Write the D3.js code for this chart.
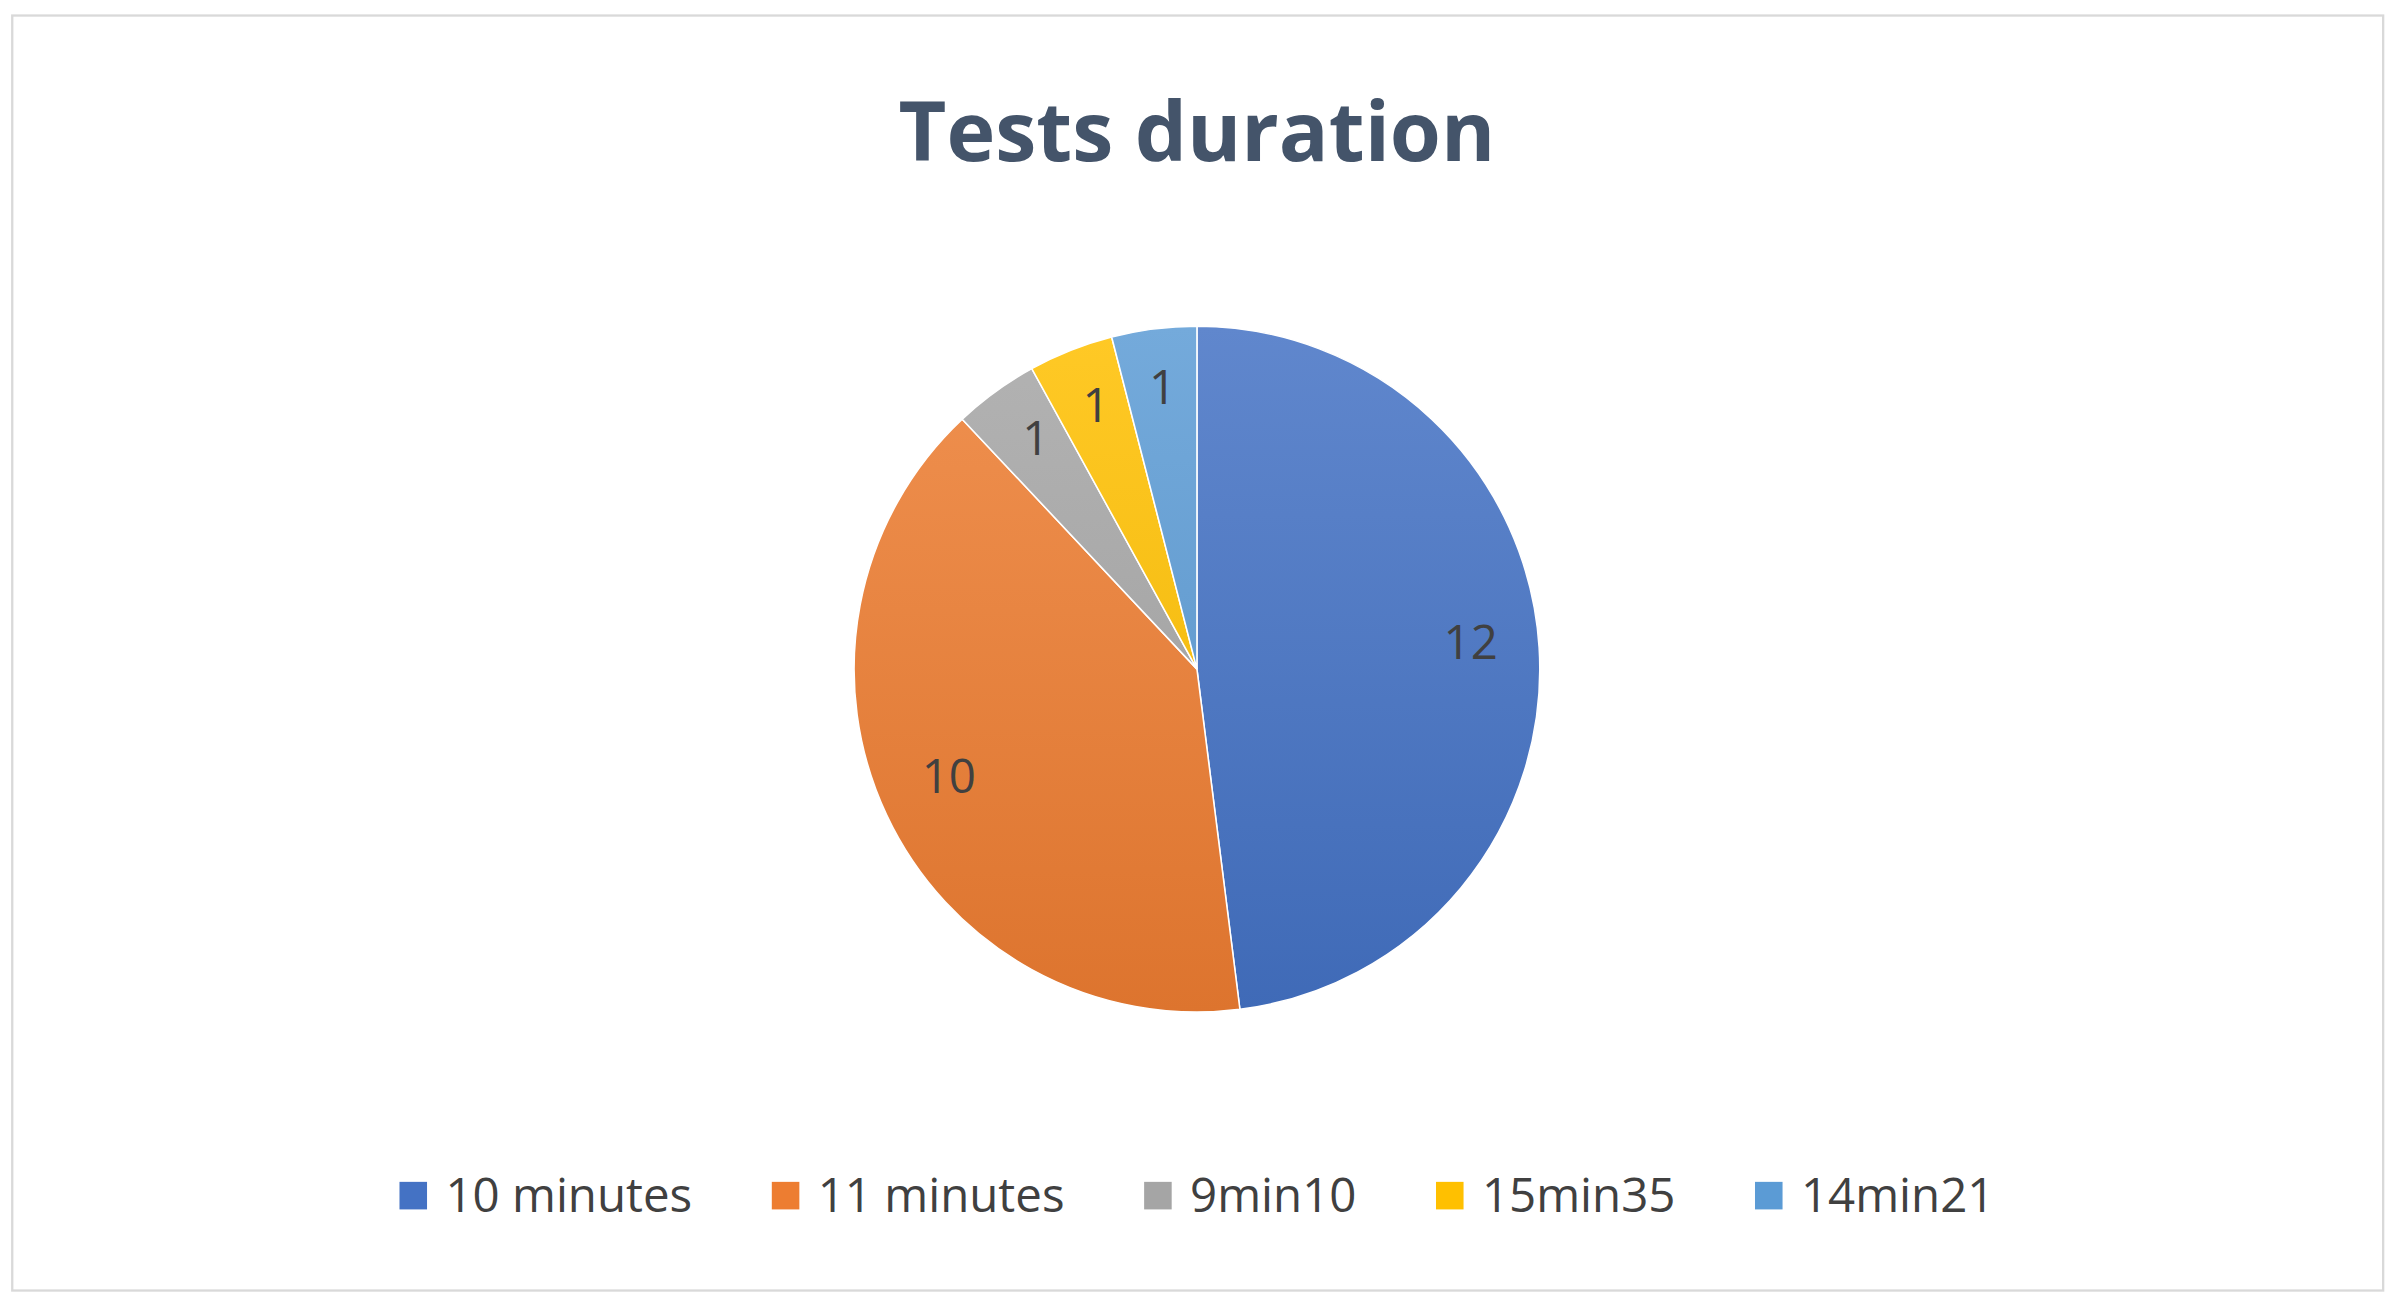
<!DOCTYPE html>
<html lang="en">
<head>
    <meta charset="UTF-8" />
    <title>Tests duration</title>
    <script src="https://d3js.org/d3.v7.min.js"></script>
    <style>
        body { margin: 0; background: #fff; }
        text { font-family: "Open Sans", "Noto Sans", sans-serif; }
    </style>
</head>
<body>
    <svg id="chart" width="2400" height="1303" viewBox="0 0 1568 851"></svg>
    <script>
        const categories = ["10 minutes", "11 minutes", "9min10", "15min35", "14min21"];
        const counts = [12, 10, 1, 1, 1];
        const colors = ["#4472c4", "#ed7d31", "#a5a5a5", "#ffc000", "#5b9bd5"];

        const svg = d3.select("svg#chart");
        const cx = 782, cy = 437, radius = 224;

        svg.append("rect")
            .attr("x", 8).attr("y", 10)
            .attr("width", 1549).attr("height", 833)
            .attr("fill", "#fff")
            .attr("stroke", "#d9d9d9")
            .attr("stroke-width", 1.5);

        svg.append("text")
            .attr("x", cx).attr("y", 105)
            .attr("text-anchor", "middle")
            .attr("font-size", 54)
            .attr("font-weight", "bold")
            .attr("fill", "#44546a")
            .text("Tests duration");

        // vertical gradients, lighter at top like Excel
        const defs = svg.append("defs");
        colors.forEach((c, i) => {
            const g = defs.append("linearGradient")
                .attr("id", "grad" + i)
                .attr("gradientUnits", "userSpaceOnUse")
                .attr("x1", 0).attr("y1", -radius)
                .attr("x2", 0).attr("y2", radius);
            g.append("stop").attr("offset", "0%").attr("stop-color", d3.interpolateRgb(c, "#ffffff")(0.15));
            g.append("stop").attr("offset", "100%").attr("stop-color", d3.color(c).darker(0.2));
        });

        const data = categories.map((c, i) => ({ name: c, value: counts[i], idx: i }));
        const pie = d3.pie().value(d => d.value).sort(null);
        const arc = d3.arc().innerRadius(0).outerRadius(radius);
        const labelArc = d3.arc().innerRadius(radius * 0.8).outerRadius(radius * 0.8);

        const g = svg.append("g").attr("transform", `translate(${cx},${cy})`);
        const arcs = pie(data);

        g.selectAll("path.slice")
            .data(arcs)
            .join("path")
            .attr("class", "slice")
            .attr("d", arc)
            .attr("fill", d => `url(#grad${d.data.idx})`)
            .attr("stroke", "#fff")
            .attr("stroke-width", 1);

        g.selectAll("text.label")
            .data(arcs)
            .join("text")
            .attr("class", "label")
            .attr("transform", d => {
                const [x, y] = labelArc.centroid(d);
                return `translate(${x},${y - 6})`;
            })
            .attr("text-anchor", "middle")
            .attr("dy", "0.35em")
            .attr("font-size", 31)
            .attr("fill", "#404040")
            .text(d => d.data.value);

        // legend
        const legend = svg.append("g").attr("transform", "translate(0,781)");
        const items = legend.selectAll("g.item")
            .data(data)
            .join("g")
            .attr("class", "item");
        items.append("rect")
            .attr("width", 18).attr("height", 18)
            .attr("y", -9)
            .attr("fill", d => colors[d.idx]);
        items.append("text")
            .attr("x", 30)
            .attr("dy", "0.35em")
            .attr("font-size", 31)
            .attr("fill", "#404040")
            .text(d => d.name);

        const gap = 52;
        const widths = [];
        items.each(function () { widths.push(this.getBBox().width); });
        const total = d3.sum(widths) + gap * (widths.length - 1);
        let x = cx - total / 2;
        items.attr("transform", (d, i) => {
            const t = `translate(${x},0)`;
            x += widths[i] + gap;
            return t;
        });
    </script>
</body>
</html>
